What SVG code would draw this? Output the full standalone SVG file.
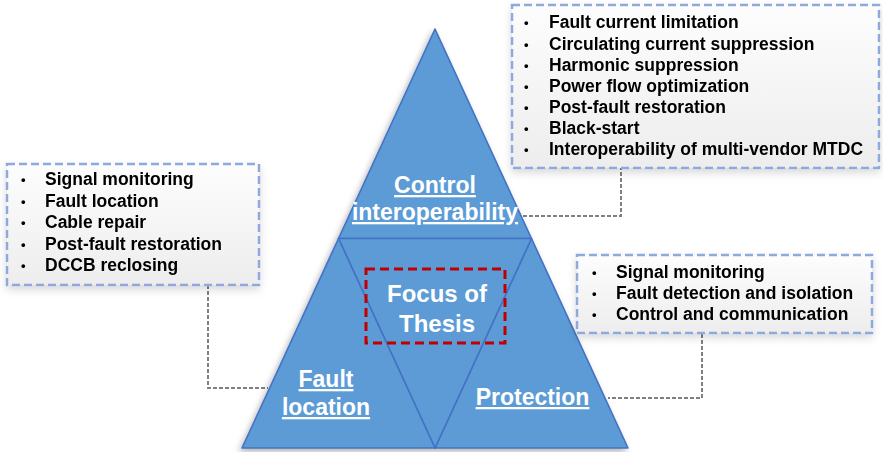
<svg xmlns="http://www.w3.org/2000/svg" width="883" height="452" viewBox="0 0 883 452">
<style>
.tri{fill:#5B9BD5;stroke:#4472C4;stroke-width:1.6;stroke-linejoin:round}
.lbl{font-family:"Liberation Sans",Arial,sans-serif;font-weight:bold;font-size:23px;fill:#fff;text-anchor:middle;text-decoration:underline}
.focus{font-family:"Liberation Sans",Arial,sans-serif;font-weight:bold;font-size:24px;fill:#fff;text-anchor:middle}
.box{fill:url(#boxg);stroke:#8EA9DB;stroke-width:2.5;stroke-dasharray:8 4}
.li{font-family:"Liberation Sans",Arial,sans-serif;font-weight:bold;font-size:17.5px;fill:#000}
.b{font-size:13px}
.conn{fill:none;stroke:#808080;stroke-width:2;stroke-dasharray:4 2}
</style>
<defs>
<linearGradient id="boxg" x1="0" y1="0" x2="0" y2="1">
<stop offset="0" stop-color="#fdfdfd"/>
<stop offset="1" stop-color="#ededed"/>
</linearGradient>
<filter id="sh" x="-10%" y="-10%" width="130%" height="130%">
<feDropShadow dx="-2" dy="3" stdDeviation="3" flood-color="#000" flood-opacity="0.3"/>
</filter>
<filter id="bsh" x="-10%" y="-10%" width="125%" height="135%">
<feDropShadow dx="0" dy="4" stdDeviation="4" flood-color="#000" flood-opacity="0.15"/>
</filter>
</defs>
<g id="connectors">
<polyline class="conn" points="523,216 621,216 621,168"/>
<polyline class="conn" points="208,285 208,388 268,388"/>
<polyline class="conn" points="702,334 702,398 608,398"/>
</g>
<g id="pyramid" filter="url(#sh)">
<g id="control"><polygon class="tri" points="435,29 338.5,238.5 531.5,238.5"/></g>
<g id="protection"><polygon class="tri" points="531.5,238.5 435,448 628,448"/></g>
<g id="focus"><polygon class="tri" points="338.5,238.5 531.5,238.5 435,448"/></g>
<g id="fault"><polygon class="tri" points="338.5,238.5 242,448 435,448"/></g>
</g>
<g id="labels">
<text class="lbl" x="435" y="193">Control</text>
<text class="lbl" x="435" y="220">interoperability</text>
<text class="lbl" x="326" y="387">Fault</text>
<text class="lbl" x="326" y="415">location</text>
<text class="lbl" x="532.5" y="405">Protection</text>
</g>
<g id="focus-box">
<rect x="366" y="269" width="139" height="74" fill="none" stroke="#C00000" stroke-width="3" stroke-dasharray="9 5"/>
<text class="focus" x="437" y="302">Focus of</text>
<text class="focus" x="437" y="332">Thesis</text>
</g>
<g id="control-box" filter="url(#bsh)">
<rect class="box" x="512" y="5" width="367" height="163"/>
<text class="li"><tspan class="b" x="524" y="27">•</tspan><tspan x="549" y="28">Fault current limitation</tspan></text>
<text class="li"><tspan class="b" x="524" y="49">•</tspan><tspan x="549" y="50">Circulating current suppression</tspan></text>
<text class="li"><tspan class="b" x="524" y="70">•</tspan><tspan x="549" y="71">Harmonic suppression</tspan></text>
<text class="li"><tspan class="b" x="524" y="91">•</tspan><tspan x="549" y="92">Power flow optimization</tspan></text>
<text class="li"><tspan class="b" x="524" y="112">•</tspan><tspan x="549" y="113">Post-fault restoration</tspan></text>
<text class="li"><tspan class="b" x="524" y="133">•</tspan><tspan x="549" y="134">Black-start</tspan></text>
<text class="li"><tspan class="b" x="524" y="154">•</tspan><tspan x="549" y="155">Interoperability of multi-vendor MTDC</tspan></text>
</g>
<g id="fault-box" filter="url(#bsh)">
<rect class="box" x="7" y="164" width="252" height="121"/>
<text class="li"><tspan class="b" x="21" y="184">•</tspan><tspan x="45" y="185">Signal monitoring</tspan></text>
<text class="li"><tspan class="b" x="21" y="206">•</tspan><tspan x="45" y="207">Fault location</tspan></text>
<text class="li"><tspan class="b" x="21" y="227">•</tspan><tspan x="45" y="228">Cable repair</tspan></text>
<text class="li"><tspan class="b" x="21" y="249">•</tspan><tspan x="45" y="250">Post-fault restoration</tspan></text>
<text class="li"><tspan class="b" x="21" y="270">•</tspan><tspan x="45" y="271">DCCB reclosing</tspan></text>
</g>
<g id="protection-box" filter="url(#bsh)">
<rect class="box" x="577" y="255" width="295" height="78"/>
<text class="li"><tspan class="b" x="592" y="277">•</tspan><tspan x="616" y="278">Signal monitoring</tspan></text>
<text class="li"><tspan class="b" x="592" y="298">•</tspan><tspan x="616" y="299">Fault detection and isolation</tspan></text>
<text class="li"><tspan class="b" x="592" y="319">•</tspan><tspan x="616" y="320">Control and communication</tspan></text>
</g>
</svg>
